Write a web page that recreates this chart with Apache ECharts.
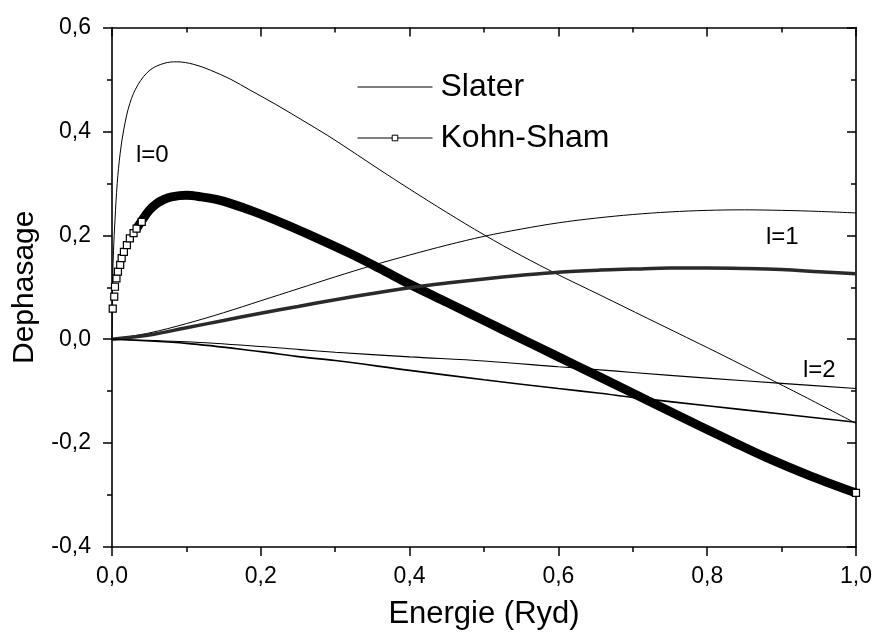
<!DOCTYPE html>
<html><head><meta charset="utf-8">
<script src="https://cdn.jsdelivr.net/npm/echarts@6/dist/echarts.min.js"></script>
<style>html,body{margin:0;padding:0;background:#fff}#c{width:876px;height:639px}</style>
</head><body><div id="c"></div>
<script>
// ---- data ----
const slater0X = [0, 0.001, 0.002, 0.004, 0.007, 0.011, 0.016, 0.024, 0.035, 0.051, 0.07, 0.087, 0.11, 0.132, 0.16, 0.185, 0.22, 0.253, 0.29, 0.32, 0.36, 0.40, 0.45, 0.50, 0.55, 0.60, 0.656, 0.72, 0.79, 0.835, 0.875, 0.93, 1.0];
const slater0Y = [0, 0.12, 0.17, 0.229, 0.30, 0.358, 0.405, 0.454, 0.49, 0.518, 0.531, 0.534, 0.529, 0.518, 0.50, 0.48, 0.452, 0.424, 0.392, 0.364, 0.326, 0.289, 0.244, 0.201, 0.161, 0.124, 0.085, 0.04, -0.009, -0.041, -0.07, -0.11, -0.162];

const ks0MarkX = [0.001, 0.003, 0.004, 0.006, 0.008, 0.011, 0.013, 0.016, 0.020, 0.024, 0.029, 0.033, 0.040, 1.0];
const ks0MarkY = [0.059, 0.082, 0.101, 0.117, 0.130, 0.143, 0.156, 0.168, 0.181, 0.194, 0.204, 0.213, 0.226, -0.296];

const ks0X = [0.033, 0.04, 0.05, 0.06, 0.07, 0.08, 0.10, 0.12, 0.14, 0.16, 0.19, 0.23, 0.27, 0.32, 0.36, 0.40, 0.45, 0.50, 0.55, 0.60, 0.656, 0.72, 0.79, 0.835, 0.88, 0.94, 1.0];
const ks0Y = [0.213, 0.228, 0.248, 0.261, 0.269, 0.274, 0.277, 0.274, 0.269, 0.261, 0.246, 0.223, 0.198, 0.165, 0.136, 0.106, 0.071, 0.036, 0.001, -0.034, -0.073, -0.118, -0.167, -0.198, -0.228, -0.264, -0.296];

const slater1X = [0, 0.05, 0.10, 0.15, 0.20, 0.25, 0.30, 0.35, 0.40, 0.45, 0.50, 0.55, 0.60, 0.65, 0.70, 0.75, 0.80, 0.85, 0.90, 0.95, 1.0];
const slater1Y = [0, 0.012, 0.03, 0.051, 0.074, 0.097, 0.12, 0.142, 0.162, 0.181, 0.198, 0.212, 0.224, 0.233, 0.24, 0.245, 0.248, 0.249, 0.248, 0.246, 0.243];

const ks1X = [0, 0.05, 0.10, 0.15, 0.20, 0.25, 0.30, 0.35, 0.40, 0.45, 0.50, 0.55, 0.60, 0.656, 0.70, 0.75, 0.80, 0.85, 0.90, 0.95, 1.0];
const ks1Y = [0, 0.008, 0.022, 0.036, 0.05, 0.063, 0.076, 0.088, 0.099, 0.108, 0.116, 0.123, 0.129, 0.133, 0.135, 0.137, 0.137, 0.136, 0.134, 0.13, 0.126];

const slater2X = [0, 0.10, 0.20, 0.253, 0.30, 0.40, 0.50, 0.60, 0.656, 0.70, 0.80, 0.90, 1.0];
const slater2Y = [0, -0.005, -0.014, -0.02, -0.025, -0.034, -0.042, -0.053, -0.059, -0.064, -0.075, -0.085, -0.095];

const ks2X = [0, 0.10, 0.20, 0.253, 0.30, 0.40, 0.50, 0.60, 0.656, 0.70, 0.80, 0.90, 1.0];
const ks2Y = [0, -0.008, -0.024, -0.034, -0.041, -0.06, -0.078, -0.095, -0.104, -0.112, -0.128, -0.144, -0.16];

const xTicks = {min: 0, max: 1, step: 0.2};
const yTicks = {min: -0.4, max: 0.6, step: 0.2};
const legendNames = ['Slater', 'Kohn-Sham'];
const curveLabels = ['l=0', 'l=1', 'l=2'];
// ---------------------------------------

const zip = (xs, ys) => xs.map((x, i) => [x, ys[i]]);
const FONT = "'Liberation Sans', Arial, sans-serif";
const fmt = v => v.toFixed(1).replace('.', ',');

const chart = echarts.init(document.getElementById('c'), null, {renderer: 'canvas'});

const baseAxis = (pos, showLabel, inside) => ({
  type: 'value',
  position: pos,
  axisLine: {show: true, onZero: false, lineStyle: {color: '#000', width: 1.6}},
  axisTick: {show: true, inside: inside, length: 9, lineStyle: {color: '#000', width: 1.5}},
  minorTick: {show: true, splitNumber: 2, length: 5, lineStyle: {color: '#000', width: 1.5}},
  splitLine: {show: false},
  minorSplitLine: {show: false},
  axisLabel: {show: showLabel, color: '#000', fontSize: 23, fontFamily: FONT, formatter: fmt}
});

const xBottom = Object.assign(baseAxis('bottom', true, false), {
  min: xTicks.min, max: xTicks.max, interval: xTicks.step,
  name: 'Energie (Ryd)', nameLocation: 'middle', nameGap: 52,
  nameTextStyle: {fontSize: 31, color: '#000', fontFamily: FONT}
});
xBottom.axisLabel.margin = 18;
const xTop = Object.assign(baseAxis('top', false, true), {min: xTicks.min, max: xTicks.max, interval: xTicks.step});

const yLeft = Object.assign(baseAxis('left', true, false), {
  min: yTicks.min, max: yTicks.max, interval: yTicks.step,
  name: 'Dephasage', nameLocation: 'middle', nameGap: 72,
  nameTextStyle: {fontSize: 30, color: '#000', fontFamily: FONT}
});
yLeft.axisLabel.margin = 21;
const yRight = Object.assign(baseAxis('right', false, true), {min: yTicks.min, max: yTicks.max, interval: yTicks.step});

const curve = (name, data, w, color) => ({
  name, type: 'line', data, symbol: 'none', xAxisIndex: 0, yAxisIndex: 0,
  smooth: 0.35,
  itemStyle: {color: '#000'},
  lineStyle: {color: color || '#000', width: w}, silent: true
});

chart.setOption({
  animation: false,
  backgroundColor: '#fff',
  textStyle: {fontFamily: FONT},
  grid: {left: 112, right: 20, top: 27.5, bottom: 92, containLabel: false},
  xAxis: [xBottom, xTop],
  yAxis: [yLeft, yRight],
  legend: {
    orient: 'vertical', left: 352, top: 66, itemWidth: 75, itemHeight: 7, itemGap: 19,
    selectedMode: false,
    textStyle: {fontSize: 32, color: '#000', fontFamily: FONT, padding: [0, 0, 0, 3]},
    data: [
      {name: legendNames[0], lineStyle: {width: 1, color: '#000', opacity: 1},
       itemStyle: {opacity: 0}},
      {name: legendNames[1], lineStyle: {width: 1, color: '#000', opacity: 1},
       itemStyle: {color: '#fff', borderColor: '#000', borderWidth: 1, opacity: 1}}
    ]
  },
  series: [
    curve(legendNames[0], zip(slater0X, slater0Y), 1),
    {
      name: legendNames[1], type: 'line', data: zip(ks0MarkX, ks0MarkY),
      symbol: 'rect', symbolSize: 7, showSymbol: true, showAllSymbol: true,
      itemStyle: {color: '#fff', borderColor: '#000', borderWidth: 1.2},
      lineStyle: {opacity: 0}, z: 5, clip: false, silent: true
    },
    curve(legendNames[1], zip(ks0X, ks0Y), 9),
    curve(legendNames[0], zip(slater1X, slater1Y), 1),
    curve(legendNames[1], zip(ks1X, ks1Y), 3.5, '#2a2a2a'),
    curve(legendNames[0], zip(slater2X, slater2Y), 1.1),
    curve(legendNames[1], zip(ks2X, ks2Y), 1.6)
  ],
  graphic: [
    {type: 'text', x: 136, y: 143, style: {text: curveLabels[0], font: "24px " + FONT, fill: '#000'}},
    {type: 'text', x: 766, y: 225, style: {text: curveLabels[1], font: "24px " + FONT, fill: '#000'}},
    {type: 'text', x: 803, y: 358, style: {text: curveLabels[2], font: "24px " + FONT, fill: '#000'}}
  ]
});
</script></body></html>
